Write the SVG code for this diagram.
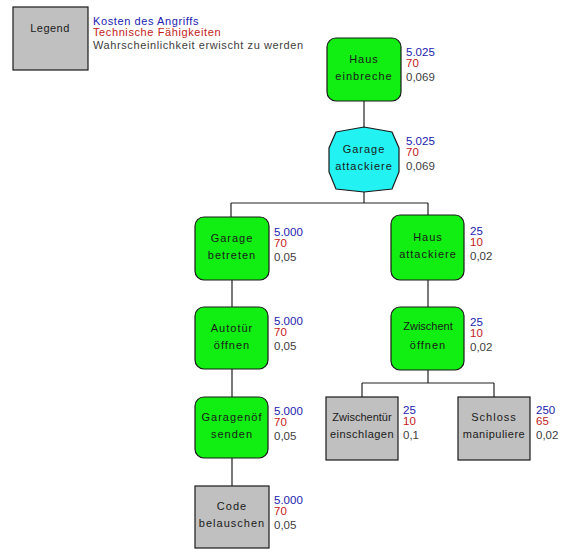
<svg xmlns="http://www.w3.org/2000/svg" width="572" height="552" viewBox="0 0 572 552">
<style>
.bg{fill:#ffffff}
.node{stroke:#1a1a1a;stroke-width:1.2}
.green{fill:#11ee11}
.gray{fill:#c0c0c0}
.cyan{fill:#22f2f2}
.lbl{font-family:"Liberation Sans",Arial,sans-serif;font-size:11px;fill:#1a1a1a;text-anchor:middle;letter-spacing:1px}
.v{font-family:"Liberation Sans",Arial,sans-serif;font-size:11.5px}
.lg{letter-spacing:0.6px;font-size:11px}
.b{fill:#2020b0}
.r{fill:#c41a1a}
.k{fill:#404040}
.conn{stroke:#222;stroke-width:1.2;fill:none}
</style>
<rect class="bg" width="572" height="552"/>
<g id="legend">
<rect x="13" y="7" width="75" height="63" class="node gray"/>
<text x="50" y="32" class="lbl" style="letter-spacing:0.5px">Legend</text>
<text x="93" y="25" class="v lg b">Kosten des Angriffs</text>
<text x="93" y="36" class="v lg r">Technische Fähigkeiten</text>
<text x="93" y="49" class="v lg k">Wahrscheinlichkeit erwischt zu werden</text>
</g>
<g id="connectors">
<path class="conn" d="M364 101V128"/>
<path class="conn" d="M364 192V203M231 203H428M231 203V217M428 203V215"/>
<path class="conn" d="M232 280V307M232 369V397M232 458V486"/>
<path class="conn" d="M428 280V307M428 370V383M362 383H494M362 383V397M494 383V397"/>
</g>
<g id="haus-einbreche">
<rect x="327" y="38" width="74" height="63" rx="9" class="node green"/>
<text x="364" y="63" class="lbl">Haus</text>
<text x="364" y="80" class="lbl">einbreche</text>
<text x="406" y="56" class="v b">5.025</text>
<text x="406" y="67" class="v r">70</text>
<text x="406" y="81" class="v k">0,069</text>
</g>
<g id="garage-attackiere">
<polygon points="336,132 364,127 392,132 399,148 399,172 392,189 364,192 336,189 329,172 329,148" class="node cyan"/>
<text x="364" y="153" class="lbl">Garage</text>
<text x="364" y="170" class="lbl">attackiere</text>
<text x="406" y="145" class="v b">5.025</text>
<text x="406" y="156" class="v r">70</text>
<text x="406" y="170" class="v k">0,069</text>
</g>
<g id="garage-betreten">
<rect x="195" y="217" width="74" height="63" rx="9" class="node green"/>
<text x="232" y="242" class="lbl">Garage</text>
<text x="232" y="259" class="lbl">betreten</text>
<text x="274" y="236" class="v b">5.000</text>
<text x="274" y="247" class="v r">70</text>
<text x="274" y="261" class="v k">0,05</text>
</g>
<g id="haus-attackiere">
<rect x="391" y="215" width="73" height="65" rx="9" class="node green"/>
<text x="428" y="241" class="lbl">Haus</text>
<text x="428" y="258" class="lbl">attackiere</text>
<text x="470" y="235" class="v b">25</text>
<text x="470" y="246" class="v r">10</text>
<text x="470" y="260" class="v k">0,02</text>
</g>
<g id="autotuer-oeffnen">
<rect x="195" y="307" width="73" height="62" rx="9" class="node green"/>
<text x="232" y="332" class="lbl">Autotür</text>
<text x="232" y="349" class="lbl">öffnen</text>
<text x="274" y="325" class="v b">5.000</text>
<text x="274" y="336" class="v r">70</text>
<text x="274" y="350" class="v k">0,05</text>
</g>
<g id="zwischent-oeffnen">
<rect x="391" y="307" width="73" height="63" rx="9" class="node green"/>
<text x="428" y="330" class="lbl" style="letter-spacing:0px">Zwischent</text>
<text x="428" y="349" class="lbl">öffnen</text>
<text x="470" y="326" class="v b">25</text>
<text x="470" y="337" class="v r">10</text>
<text x="470" y="351" class="v k">0,02</text>
</g>
<g id="garagenoef-senden">
<rect x="195" y="397" width="73" height="61" rx="9" class="node green"/>
<text x="232" y="421" class="lbl">Garagenöf</text>
<text x="232" y="438" class="lbl">senden</text>
<text x="274" y="415" class="v b">5.000</text>
<text x="274" y="426" class="v r">70</text>
<text x="274" y="440" class="v k">0,05</text>
</g>
<g id="code-belauschen">
<rect x="195" y="486" width="74" height="62" class="node gray"/>
<text x="232" y="510" class="lbl">Code</text>
<text x="232" y="527" class="lbl">belauschen</text>
<text x="274" y="504" class="v b">5.000</text>
<text x="274" y="515" class="v r">70</text>
<text x="274" y="529" class="v k">0,05</text>
</g>
<g id="zwischentuer-einschlagen">
<rect x="326" y="397" width="72" height="63" class="node gray"/>
<text x="362" y="421" class="lbl" style="letter-spacing:0px">Zwischentür</text>
<text x="362" y="438" class="lbl" style="letter-spacing:0.5px">einschlagen</text>
<text x="403" y="414" class="v b">25</text>
<text x="403" y="425" class="v r">10</text>
<text x="403" y="439" class="v k">0,1</text>
</g>
<g id="schloss-manipuliere">
<rect x="458" y="397" width="72" height="63" class="node gray"/>
<text x="494" y="421" class="lbl">Schloss</text>
<text x="494" y="438" class="lbl" style="letter-spacing:0.5px">manipuliere</text>
<text x="536" y="414" class="v b">250</text>
<text x="536" y="425" class="v r">65</text>
<text x="536" y="439" class="v k">0,02</text>
</g>
</svg>
